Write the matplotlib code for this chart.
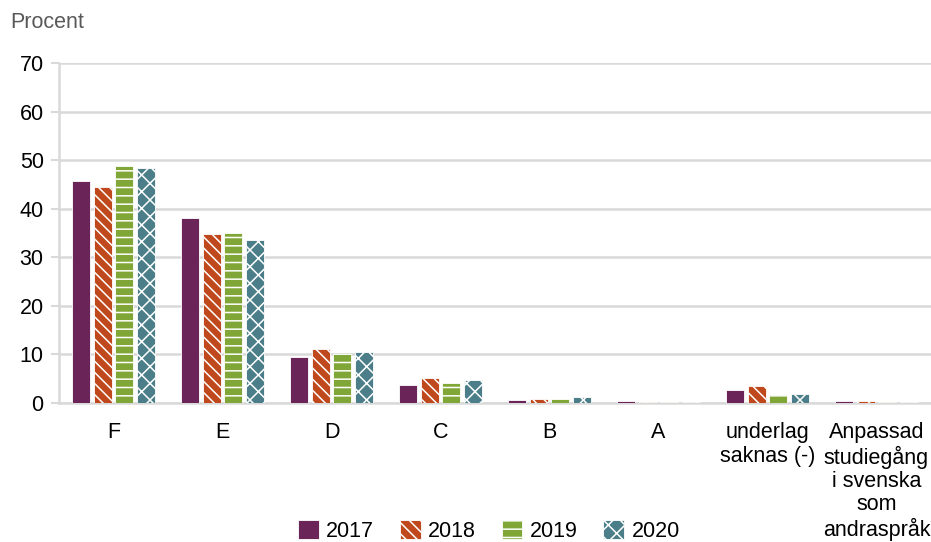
import numpy as np
import matplotlib.pyplot as plt
from matplotlib.patches import Patch

plt.rcParams['font.family'] = ['Liberation Sans', 'DejaVu Sans']
plt.rcParams['hatch.linewidth'] = 1.1

categories = ['F', 'E', 'D', 'C', 'B', 'A', 'underlag\nsaknas (-)',
              'Anpassad\nstudiegång\ni svenska\nsom\nandraspråk']
years = ['2017', '2018', '2019', '2020']
v2017 = [45.7, 38.1, 9.5, 3.7, 0.6, 0.5, 2.6, 0.4]
v2018 = [44.5, 34.8, 11.1, 5.1, 0.9, 0.2, 3.5, 0.4]
v2019 = [48.8, 35.0, 10.1, 4.1, 0.8, 0.3, 1.7, 0.2]
v2020 = [48.4, 33.6, 10.5, 4.7, 1.2, 0.2, 1.9, 0.2]

colors = ['#6b2458', '#c0481d', '#7fa637', '#4b7e89']
hatches = ['', '\\\\\\', '--', 'xx']
series = [v2017, v2018, v2019, v2020]

fs = 15.5

fig = plt.figure(figsize=(9.31, 5.42), dpi=100)
ax = fig.add_axes([59 / 931, 1 - 403 / 542, 872 / 931, 340 / 542])

x = np.arange(len(categories))
step = 0.2
width = 0.165
for i, vals in enumerate(series):
    ax.bar(x + (i - 1.5) * step, vals, width, color=colors[i], hatch=hatches[i],
           edgecolor='white', linewidth=0.6, zorder=3)

ax.set_xlim(-0.5, len(categories) - 0.5)
ax.set_ylim(0, 70)
ax.set_yticks(range(0, 71, 10))
ax.set_xticks(x)
ax.set_xticklabels(categories, fontsize=fs, linespacing=1.13)
ax.tick_params(axis='y', labelsize=fs, length=6, color='#d9d9d9', width=1.5, pad=5)
ax.tick_params(axis='x', length=0, pad=14)
ax.yaxis.grid(True, color='#d9d9d9', linewidth=1.8, zorder=0)
for s in ['top', 'right']:
    ax.spines[s].set_visible(False)
for s in ['left', 'bottom']:
    ax.spines[s].set_color('#d9d9d9')
    ax.spines[s].set_linewidth(1.8)

fig.text(10 / 931, 1 - 22 / 542, 'Procent', fontsize=fs, color='#595959', va='center')

handles = [Patch(facecolor=colors[i], hatch=hatches[i], edgecolor='white', linewidth=0.6)
           for i in range(4)]
fig.legend(handles, years, loc='center', bbox_to_anchor=(489 / 931, 1 - 531 / 542),
           ncol=4, frameon=False, fontsize=fs, handlelength=0.95, handleheight=0.95,
           handletextpad=0.35, columnspacing=1.2, borderpad=0)

fig.savefig('out.png', dpi=100)
